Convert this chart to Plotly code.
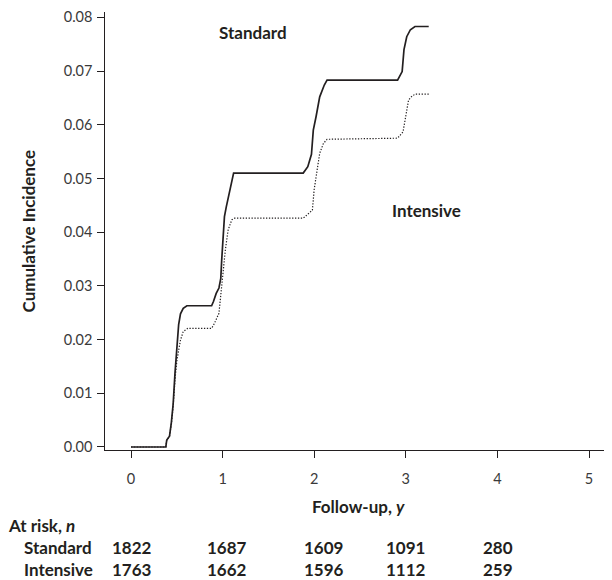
import plotly.graph_objects as go

# ---- data ----
std_time = [0.00, 0.38, 0.39, 0.42, 0.44, 0.46, 0.48, 0.50, 0.52, 0.54, 0.57, 0.61,
            0.88, 0.90, 0.93, 0.96, 0.98, 0.99, 1.01, 1.02, 1.04, 1.07, 1.10, 1.12,
            1.88, 1.90, 1.93, 1.97, 1.99, 2.02, 2.06, 2.11, 2.14,
            2.91, 2.93, 2.96, 2.98, 3.01, 3.05, 3.10, 3.25]
std_inc = [0.0000, 0.0000, 0.0013, 0.0020, 0.0045, 0.0080, 0.0137, 0.0190, 0.0228, 0.0248, 0.0258, 0.0263,
           0.0263, 0.0271, 0.0286, 0.0296, 0.0314, 0.0348, 0.0398, 0.0429, 0.0447, 0.0472, 0.0497, 0.0510,
           0.0510, 0.0515, 0.0522, 0.0545, 0.0590, 0.0615, 0.0652, 0.0674, 0.0683,
           0.0683, 0.0690, 0.0699, 0.0740, 0.0764, 0.0777, 0.0783, 0.0783]

int_time = [0.00, 0.38, 0.39, 0.42, 0.44, 0.46, 0.48, 0.50, 0.52, 0.54, 0.57, 0.62,
            0.88, 0.91, 0.96, 0.98, 1.01, 1.03, 1.06, 1.10, 1.13,
            1.88, 1.98, 2.00, 2.06, 2.10, 2.14,
            2.91, 2.97, 3.00, 3.03, 3.06, 3.10, 3.25]
int_inc = [0.0000, 0.0000, 0.0012, 0.0020, 0.0042, 0.0075, 0.0125, 0.0160, 0.0180, 0.0199, 0.0215, 0.0221,
           0.0221, 0.0230, 0.0249, 0.0286, 0.0330, 0.0367, 0.0404, 0.0423, 0.0426,
           0.0426, 0.0441, 0.0480, 0.0547, 0.0565, 0.0573,
           0.0575, 0.0587, 0.0620, 0.0646, 0.0652, 0.0657, 0.0657]

x_ticks = [0, 1, 2, 3, 4, 5]
y_ticks = [0.00, 0.01, 0.02, 0.03, 0.04, 0.05, 0.06, 0.07, 0.08]
y_tick_labels = ["0.00", "0.01", "0.02", "0.03", "0.04", "0.05", "0.06", "0.07", "0.08"]

groups = ["Standard", "Intensive"]
risk_standard = [1822, 1687, 1609, 1091, 280]
risk_intensive = [1763, 1662, 1596, 1112, 259]

# ---- style / layout ----
OFF = 8  # page body margin
W, H = 612 - OFF, 580 - OFF
L, R, T, B = 97, 0, 4, 130
PW, PH = W - L - R, H - T - B
INK = "#231f20"
TICKC = "#3a3a3a"
FONT = "Lato, 'Open Sans', sans-serif"
BOLD = 17


def px(xp):
    return (xp - OFF - L) / PW


def py(yp):
    return 1 - (yp - OFF - T) / PH


fig = go.Figure()
fig.add_trace(go.Scatter(x=std_time, y=std_inc, mode="lines", name="Standard",
                         line=dict(color=INK, width=1.7)))
fig.add_trace(go.Scatter(x=int_time, y=int_inc, mode="lines", name="Intensive",
                         line=dict(color=INK, width=1.2, dash="1.3px,1.6px")))

annotations = []
def txt(x, y, s, anchor="center", angle=0):
    annotations.append(dict(x=px(x), y=py(y), xref="paper", yref="paper", xanchor=anchor,
                            yanchor="middle", text=s, showarrow=False, textangle=angle,
                            font=dict(size=BOLD, color=INK, family=FONT)))

# curve labels
txt(252.5, 33, "<b>Standard</b>")
txt(426, 210, "<b>Intensive</b>")
# x-axis title
txt(358, 506, "<b>Follow-up, <i>y</i></b>")
# y-axis title
txt(27.5, 231, "<b>Cumulative Incidence</b>", "center", -90)
# at risk table
txt(6, 525, "<b>At risk, <i>n</i></b>", "left")
col_x = [110, 205, 301.5, 383.5, 481]
row_y = [547, 569]
for gi, (g, vals) in enumerate(zip(groups, [risk_standard, risk_intensive])):
    txt(22, row_y[gi], f"<b>{g}</b>", "left")
    for cx, v in zip(col_x, vals):
        txt(cx, row_y[gi], f"<b>{v}</b>", "left")

fig.update_layout(
    width=W, height=H,
    margin=dict(l=L, r=R, t=T, b=B),
    paper_bgcolor="white", plot_bgcolor="white",
    showlegend=False,
    font=dict(family=FONT, color=INK, size=14),
    annotations=annotations,
)
fig.update_xaxes(range=[-0.284, 5.251], tickvals=x_ticks, ticks="outside", ticklen=6.5,
                 tickcolor=INK, tickwidth=1.2, showline=True, linecolor=INK, linewidth=1.4,
                 showgrid=False, zeroline=False, ticklabelstandoff=9,
                 tickfont=dict(size=14.5, color=TICKC, family=FONT))
fig.update_yaxes(range=[-0.00056, 0.0810], tickvals=y_ticks, ticktext=y_tick_labels,
                 ticks="outside", ticklen=6.5, tickcolor=INK, tickwidth=1.2,
                 showline=True, linecolor=INK, linewidth=1.4, showgrid=False, zeroline=False,
                 ticklabelstandoff=2, tickfont=dict(size=14.5, color=TICKC, family=FONT))

fig.write_html("out.html")
